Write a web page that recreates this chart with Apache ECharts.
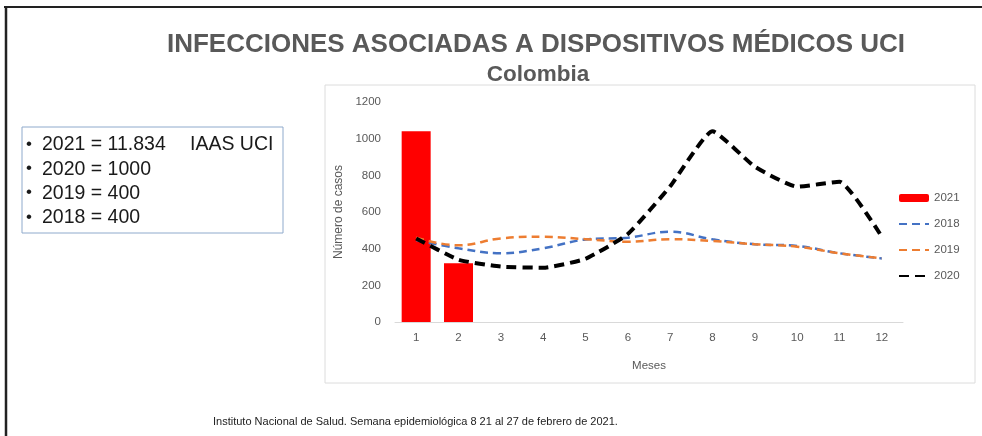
<!DOCTYPE html>
<html>
<head>
<meta charset="utf-8">
<script src="https://cdn.jsdelivr.net/npm/echarts@6/dist/echarts.min.js"></script>
<style>
html, body { margin: 0; padding: 0; background: #fff; }
#chart { width: 982px; height: 436px; }
</style>
</head>
<body>
<div id="chart"></div>
<script>
// datos
var meses = ['1', '2', '3', '4', '5', '6', '7', '8', '9', '10', '11', '12'];
var casos2021 = [1040, 320];
var casos2018 = [447, 402, 375, 402, 450, 460, 493, 451, 424, 415, 375, 347];
var casos2019 = [460, 418, 456, 465, 452, 438, 452, 442, 424, 411, 375, 347];
var casos2020 = [456, 340, 302, 296, 345, 480, 740, 1040, 847, 738, 765, 465];
var resumen = ['2021 = 11.834', '2020 = 1000', '2019 = 400', '2018 = 400'];

var fuente = 'Liberation Sans, Arial, sans-serif';
var gris = '#595959';

// lista con viñetas del recuadro
var resumenTextos = [];
resumen.forEach(function (t, i) {
    var y = 145 + i * 24.3;
    resumenTextos.push({
        type: 'text', x: 26, y: y - 1,
        style: { text: '\u2022', font: '17px ' + fuente, fill: '#1a1a1a', verticalAlign: 'middle' }
    });
    resumenTextos.push({
        type: 'text', x: 42, y: y,
        style: { text: t, font: '19.5px ' + fuente, fill: '#1a1a1a', verticalAlign: 'middle' }
    });
});

var sinSimbolo = { opacity: 0 };

var option = {
    animation: false,
    backgroundColor: '#fff',
    title: [
        {
            text: 'INFECCIONES ASOCIADAS A DISPOSITIVOS MÉDICOS UCI',
            left: 531, top: 27, textAlign: 'center',
            textStyle: { fontFamily: fuente, fontSize: 26, fontWeight: 'bold', color: gris }
        },
        {
            text: 'Colombia',
            left: 533, top: 58, textAlign: 'center',
            textStyle: { fontFamily: fuente, fontSize: 22.5, fontWeight: 'bold', color: gris }
        }
    ],
    legend: {
        orient: 'vertical',
        left: 893,
        top: 187,
        itemWidth: 30,
        itemHeight: 8,
        itemGap: 14,
        textStyle: { fontFamily: fuente, fontSize: 11.5, color: gris },
        data: [
            { name: '2021' },
            { name: '2018', itemStyle: sinSimbolo },
            { name: '2019', itemStyle: sinSimbolo },
            { name: '2020', itemStyle: sinSimbolo }
        ]
    },
    grid: { left: 395, right: 79, top: 102, bottom: 114 },
    xAxis: {
        type: 'category',
        data: meses,
        name: 'Meses',
        nameLocation: 'middle',
        nameGap: 38,
        nameTextStyle: { fontFamily: fuente, fontSize: 11.5, color: gris },
        axisTick: { show: false },
        axisLine: { lineStyle: { color: '#d9d9d9', width: 1 } },
        axisLabel: { fontFamily: fuente, fontSize: 11.5, color: gris, margin: 10 }
    },
    yAxis: {
        type: 'value',
        min: 0, max: 1200, interval: 200,
        name: 'Número de casos',
        nameLocation: 'middle',
        nameGap: 45,
        nameTextStyle: { fontFamily: fuente, fontSize: 12, color: gris },
        splitLine: { show: false },
        axisLine: { show: false },
        axisTick: { show: false },
        axisLabel: {
            fontFamily: fuente, fontSize: 11.5, color: gris, margin: 14,
            formatter: function (v) { return String(v); }
        }
    },
    series: [
        {
            name: '2021', type: 'bar', data: casos2021, barWidth: 29,
            itemStyle: { color: '#ff0000' }
        },
        {
            name: '2018', type: 'line', data: casos2018, smooth: 0.4, symbol: 'none',
            lineStyle: { color: '#4472c4', width: 2.5, type: [8, 5] },
            itemStyle: { color: '#4472c4' }
        },
        {
            name: '2019', type: 'line', data: casos2019, smooth: 0.4, symbol: 'none',
            lineStyle: { color: '#ed7d31', width: 2.5, type: [8, 5] },
            itemStyle: { color: '#ed7d31' }
        },
        {
            name: '2020', type: 'line', data: casos2020, smooth: 0.15, symbol: 'none',
            lineStyle: { color: '#000', width: 4, type: [10, 6] },
            itemStyle: { color: '#000' }
        }
    ],
    graphic: [
        // marco de la diapositiva
        { type: 'line', shape: { x1: 4, y1: 7, x2: 982, y2: 7 }, style: { stroke: '#222', lineWidth: 2 } },
        { type: 'line', shape: { x1: 6, y1: 7, x2: 6, y2: 436 }, style: { stroke: '#222', lineWidth: 2.5 } },
        // recuadro del grafico
        { type: 'rect', shape: { x: 325, y: 85, width: 650, height: 298 }, style: { fill: 'none', stroke: '#dcdcdc', lineWidth: 1 }, z: -1 },
        // recuadro de resumen
        { type: 'rect', shape: { x: 22, y: 127, width: 261, height: 106 }, style: { fill: 'none', stroke: '#8faacc', lineWidth: 1 } },
        {
            type: 'text', x: 190, y: 145,
            style: { text: 'IAAS UCI', font: '19.5px ' + fuente, fill: '#1a1a1a', verticalAlign: 'middle' }
        },
        {
            type: 'text', left: 213, top: 416,
            style: { text: 'Instituto Nacional de Salud. Semana epidemiológica 8 21 al 27 de febrero de 2021.', font: '11px ' + fuente, fill: '#222' }
        }
    ].concat(resumenTextos)
};

var chart = echarts.init(document.getElementById('chart'));
chart.setOption(option);
</script>
</body>
</html>
